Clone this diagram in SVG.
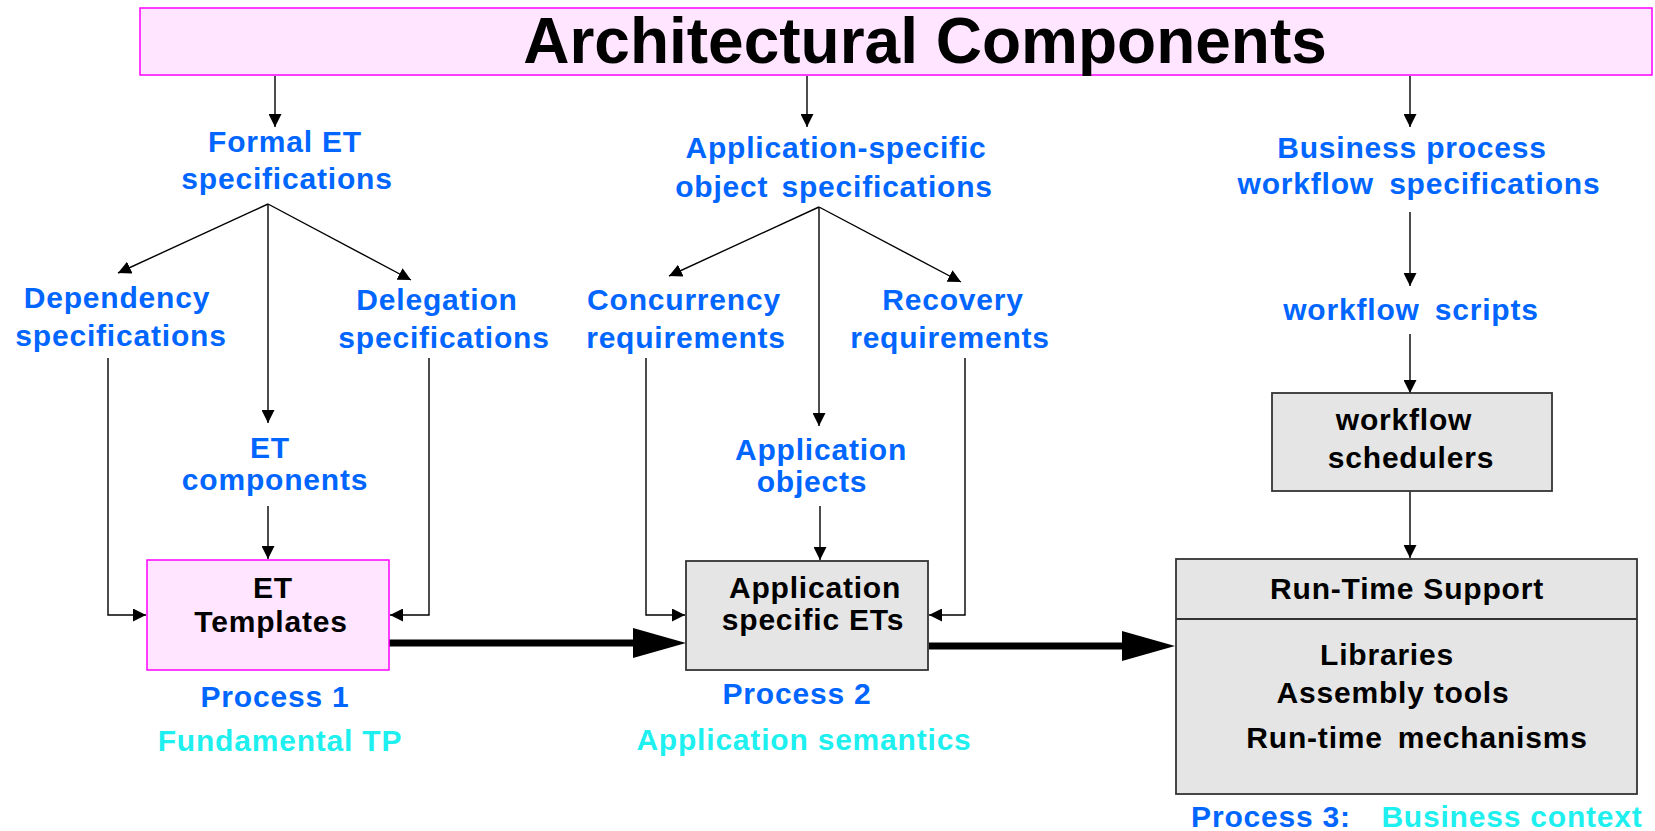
<svg xmlns="http://www.w3.org/2000/svg" width="1655" height="831" viewBox="0 0 1655 831">
<defs>
<style>
text{font-family:"Liberation Sans",Arial,sans-serif;font-weight:bold;text-anchor:middle}
.b{fill:#0066FF;font-size:30px;letter-spacing:0.8px}
.c{fill:#1EEFEF;font-size:30px;letter-spacing:0.8px}
.k{fill:#000;font-size:30px;letter-spacing:0.8px}
.pink{fill:#FFE5FF;stroke:#FF00FF;stroke-width:1.5}
.gray{fill:#E5E5E5;stroke:#333;stroke-width:1.8}
.ln{fill:none;stroke:#000;stroke-width:1.4;marker-end:url(#ah)}
.thick{stroke:#000;stroke-width:7}
</style>
<marker id="ah" markerUnits="userSpaceOnUse" markerWidth="13" markerHeight="13" refX="13" refY="6.5" orient="auto">
<path d="M0,0 L13,6.5 L0,13 z" fill="#000"/>
</marker>
</defs>
<rect width="1655" height="831" fill="#fff"/>

<g id="title">
<rect class="pink" x="140" y="8" width="1512" height="67"/>
<text x="925" y="63" style="font-size:64px;fill:#000">Architectural Components</text>
</g>

<g id="connectors">
<line class="ln" x1="275" y1="76" x2="275" y2="127"/>
<line class="ln" x1="807" y1="76" x2="807" y2="127"/>
<line class="ln" x1="1410" y1="76" x2="1410" y2="127"/>
<line class="ln" x1="268" y1="204" x2="118" y2="273"/>
<line class="ln" x1="268" y1="204" x2="411" y2="280"/>
<line class="ln" x1="268" y1="204" x2="268" y2="423"/>
<line class="ln" x1="268" y1="506" x2="268" y2="559"/>
<polyline class="ln" points="108,358 108,615 146,615"/>
<polyline class="ln" points="429,358 429,615 390,615"/>
<line class="ln" x1="819" y1="207" x2="669" y2="276"/>
<line class="ln" x1="819" y1="207" x2="961" y2="282"/>
<line class="ln" x1="819" y1="207" x2="819" y2="426"/>
<line class="ln" x1="820" y1="506" x2="820" y2="560"/>
<polyline class="ln" points="646,358 646,615 685,615"/>
<polyline class="ln" points="965,358 965,615 929,615"/>
<line class="ln" x1="1410" y1="212" x2="1410" y2="286"/>
<line class="ln" x1="1410" y1="334" x2="1410" y2="393"/>
<line class="ln" x1="1410" y1="491" x2="1410" y2="558"/>
<line class="thick" x1="389" y1="643" x2="640" y2="643"/>
<polygon points="633,628 686,643 633,658" fill="#000"/>
<line class="thick" x1="929" y1="646" x2="1128" y2="646"/>
<polygon points="1122,631 1175,646 1122,661" fill="#000"/>
</g>

<g id="formal-et-spec">
<text class="b" x="285" y="152">Formal ET</text>
<text class="b" x="287" y="189">specifications</text>
</g>
<g id="dependency-spec">
<text class="b" x="117" y="308">Dependency</text>
<text class="b" x="121" y="346">specifications</text>
</g>
<g id="delegation-spec">
<text class="b" x="437" y="310">Delegation</text>
<text class="b" x="444" y="348">specifications</text>
</g>
<g id="et-components">
<text class="b" x="270" y="458">ET</text>
<text class="b" x="275" y="490">components</text>
</g>
<g id="et-templates">
<rect class="pink" x="147" y="560" width="242" height="110"/>
<text class="k" x="273" y="598">ET</text>
<text class="k" x="271" y="632">Templates</text>
</g>
<g id="process1">
<text class="b" x="275" y="707">Process 1</text>
<text class="c" x="280" y="751">Fundamental TP</text>
</g>

<g id="app-spec">
<text class="b" x="836" y="158">Application-specific</text>
<text class="b" x="834" y="197" style="word-spacing:4px">object specifications</text>
</g>
<g id="concurrency">
<text class="b" x="684" y="310">Concurrency</text>
<text class="b" x="686" y="348">requirements</text>
</g>
<g id="recovery">
<text class="b" x="953" y="310">Recovery</text>
<text class="b" x="950" y="348">requirements</text>
</g>
<g id="app-objects">
<text class="b" x="821" y="460">Application</text>
<text class="b" x="812" y="492">objects</text>
</g>
<g id="app-specific-ets">
<rect class="gray" x="686" y="561" width="242" height="109"/>
<text class="k" x="815" y="598">Application</text>
<text class="k" x="813" y="630">specific ETs</text>
</g>
<g id="process2">
<text class="b" x="797" y="704">Process 2</text>
<text class="c" x="804" y="750">Application semantics</text>
</g>

<g id="business-spec">
<text class="b" x="1412" y="158">Business process</text>
<text class="b" x="1419" y="194" style="word-spacing:6px">workflow specifications</text>
</g>
<g id="workflow-scripts">
<text class="b" x="1411" y="320" style="word-spacing:6px">workflow scripts</text>
</g>
<g id="workflow-schedulers">
<rect class="gray" x="1272" y="393" width="280" height="98"/>
<text class="k" x="1404" y="430">workflow</text>
<text class="k" x="1411" y="468">schedulers</text>
</g>
<g id="runtime-support">
<rect class="gray" x="1176" y="559" width="461" height="235"/>
<line x1="1176" y1="619" x2="1637" y2="619" stroke="#333" stroke-width="1.8"/>
<text class="k" x="1407" y="599">Run-Time Support</text>
<text class="k" x="1387" y="665">Libraries</text>
<text class="k" x="1393" y="703">Assembly tools</text>
<text class="k" x="1417" y="748" style="word-spacing:6px">Run-time mechanisms</text>
</g>
<g id="process3">
<text class="b" x="1271" y="827">Process 3:</text>
<text class="c" x="1512" y="827">Business context</text>
</g>
</svg>
